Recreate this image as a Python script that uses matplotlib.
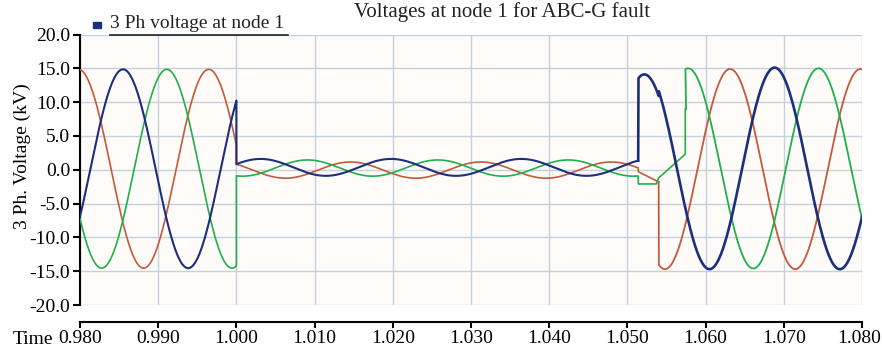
import numpy as np
import matplotlib.pyplot as plt
from matplotlib.lines import Line2D
from matplotlib.patches import Rectangle
from matplotlib.transforms import ScaledTranslation

plt.rcParams['font.family'] = ['Liberation Serif', 'DejaVu Serif']

# waveform parameters, order: phase A (red), phase B (blue), phase C (green)
freq = 60.0
colors = ['#c45a3c', '#1d2f7c', '#1fb04c']
pre_amp = [14.7, 14.7, 14.7]
pre_offset = [0.15, 0.15, 0.15]
pre_peak_t = [0.9798, 0.9855, 0.9911]

fault_on = 1.0
fault_amp = [1.2, 1.25, 1.2]
fault_offset = [-0.05, 0.35, 0.25]
fault_peak_t = [1.0146, 1.0031, 1.0091]

clear_t = 1.0514
close_t = [1.0540, 1.0514, 1.0574]
post_amp = [14.8, 14.9, 14.8]
post_offset = [0.1, 0.2, 0.2]
# blue swings lower until the red pole closes
early_end = 1.0540
early_amp = [14.8, 13.9, 14.8]

# voltages of the open poles between fault clearing and reclosing
gap_t = [[1.0514, 1.0540], [], [1.0514, 1.0537, 1.0540, 1.0574, 1.0574, 1.0575]]
gap_v = [[-0.3, -1.8], [], [-2.1, -2.1, -1.2, 2.3, 9.0, 9.0]]

t_start, t_end, dt = 0.98, 1.08, 2e-5
y_ticks = [-20.0, -15.0, -10.0, -5.0, 0.0, 5.0, 10.0, 15.0, 20.0]
x_ticks = [0.98, 0.99, 1.00, 1.01, 1.02, 1.03, 1.04, 1.05, 1.06, 1.07, 1.08]


def sine(t, amp, off, tpk):
    return off + amp * np.cos(2 * np.pi * freq * (t - tpk))


fig = plt.figure(figsize=(8.82, 3.53), dpi=100)
ax = fig.add_axes([80 / 882, 1 - 305 / 353, 782 / 882, 270.5 / 353])
ax.set_facecolor('#fffbf9')

for i in [0, 2, 1]:
    t_pre = np.arange(t_start, fault_on, dt)
    t_flt = np.arange(fault_on, clear_t, dt)
    t_post = np.arange(close_t[i] + dt, t_end + dt / 2, dt)
    v_pre = sine(t_pre, pre_amp[i], pre_offset[i], pre_peak_t[i])
    v_flt = sine(t_flt, fault_amp[i], fault_offset[i], fault_peak_t[i])
    amp = np.where(t_post < early_end, early_amp[i], post_amp[i])
    v_post = sine(t_post, amp, post_offset[i], pre_peak_t[i])
    ta = np.concatenate([t_pre, t_flt, gap_t[i]])
    va = np.concatenate([v_pre, v_flt, gap_v[i]])
    lw = 1.5 if i == 1 else 1.2
    ax.plot(ta, va, color=colors[i], lw=lw, zorder=3)
    # join last point so the reclosing step is drawn
    tb = np.concatenate([ta[-1:], t_post])
    vb = np.concatenate([va[-1:], v_post])
    ax.plot(tb, vb, color=colors[i], lw=1.9 if i == 1 else 1.3, zorder=3)

ax.set_xlim(t_start, t_end)
ax.set_ylim(-20, 20)
ax.set_xticks(x_ticks)
ax.set_xticklabels(['%.3f' % v for v in x_ticks])
ax.set_yticks(y_ticks)
ax.set_yticklabels(['%.1f' % v for v in y_ticks])
ax.grid(True, color='#c3d2dc', lw=1.0)
ax.set_axisbelow(True)

for s in ['top', 'right']:
    ax.spines[s].set_visible(False)
ax.spines['left'].set_linewidth(1.5)
ax.spines['bottom'].set_linewidth(1.5)
ax.spines['bottom'].set_position(('outward', 12))
ax.tick_params(axis='y', direction='out', length=5, width=1.5, labelsize=14, pad=2)
ax.tick_params(axis='x', direction='out', length=4, width=1.5, labelsize=14, pad=2)

# keep the last time label inside the figure
last = ax.get_xticklabels()[-1]
last.set_transform(last.get_transform() + ScaledTranslation(-3 / 100, 0, fig.dpi_scale_trans))

fig.text(13 / 882, 1 - 339 / 353, 'Time', fontsize=14, va='center', ha='left')
fig.text(22 / 882, 1 - 156 / 353, '3 Ph. Voltage (kV)', fontsize=14, rotation=90,
         va='center', ha='center')
fig.text(502 / 882, 1 - 12 / 353, 'Voltages at node 1 for ABC-G fault',
         fontsize=15, va='center', ha='center', color='#222222')

# legend entry with underline
fig.patches.append(Rectangle((93 / 882, 1 - 28 / 353), 8 / 882, 6 / 353,
                             transform=fig.transFigure, color=colors[1]))
fig.text(110 / 882, 1 - 23 / 353, '3 Ph voltage at node 1', fontsize=14,
         va='center', ha='left', color='#222222')
fig.lines.append(Line2D([110 / 882, 288 / 882], [1 - 35 / 353, 1 - 35 / 353],
                        transform=fig.transFigure, color='#222222', lw=1.2))

fig.savefig('out.png', dpi=100)
